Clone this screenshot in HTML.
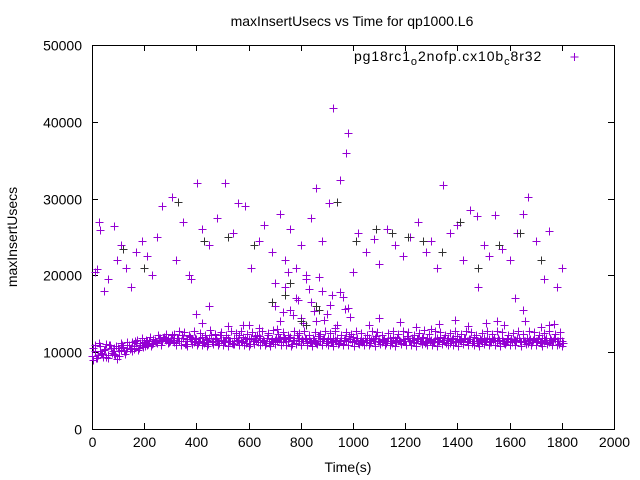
<!DOCTYPE html>
<html><head><meta charset="utf-8"><style>
html,body{margin:0;padding:0;background:#fff;}
svg{display:block;font-family:"Liberation Sans",sans-serif;}
</style></head><body>
<svg id="chart" width="640" height="480">
<rect width="640" height="480" fill="#fff"/>
<text x="352" y="26" font-size="14" text-anchor="middle">maxInsertUsecs vs Time for qp1000.L6</text>
<text x="348" y="472" font-size="14" text-anchor="middle">Time(s)</text>
<text transform="translate(17,237) rotate(-90)" font-size="14" text-anchor="middle">maxInsertUsecs</text>
<g id="axes"></g>
<g id="marks"></g>
<g>
<text x="354" y="61" font-size="14" letter-spacing="0.9">pg18rc1<tspan dy="4" font-size="11">o</tspan><tspan dy="-4">2nofp.cx10b</tspan><tspan dy="4" font-size="11">c</tspan><tspan dy="-4">8r32</tspan></text>
<path d="M570.5 57h8M574.5 53v8" stroke="#9400d3" stroke-width="1"/>
</g>
</svg>
<script>
const xTicks=[0,200,400,600,800,1000,1200,1400,1600,1800,2000];
const yTicks=[0,10000,20000,30000,40000,50000];
const bandTimes=[];for(let t=0;t<=1800;t+=10)bandTimes.push(t);
const bandA=[9500,10200,9300,10800,9800,10400,9600,10900,10100,9700,10500,
10300,10700,10100,11000,10500,10800,11200,10600,11000,11300,10900,11400,11100,11600,11200,11800,11400,11700,11900,11500,
11600,11200,11900,11400,11800,11100,12100,11500,11300,11700,
11500,12000,11200,11600,11900,11300,11700,11400,12200,11600,
11300,11800,11500,11100,11900,11600,11400,12000,11200,11700,
11800,11400,11600,12100,11300,11500,11900,11200,11700,11600,
11500,11900,11300,11700,11400,12000,11600,11200,11800,11500,
11400,11700,11900,11300,11600,11200,12100,11500,11800,11400,
11700,11300,11600,11900,11500,11100,11800,11400,11700,12000,
11600,11200,11800,11500,11300,11900,11600,11400,12100,11500,
11300,11700,11500,11900,11200,11600,11800,11400,11700,11500,
11900,11400,11600,11200,11800,11500,12000,11300,11700,11600,
11400,11800,11500,11300,11900,11600,11200,11700,11500,12100,
11600,11300,11800,11400,11700,11500,11900,11200,11600,11800,
11500,11700,11300,11900,11400,11600,11800,11200,11700,11500,
11300,11600,11900,11400,11800,11500,11200,11700,11600,11400,
11700,11200,11500,11900,11300,11600,11800,11400,11100,11500];
const bandB=[10600,9200,11200,9900,10300,9400,11000,9900,10600,9100,10200,
10900,9800,11300,10400,10100,11500,10300,11200,10700,11600,11100,10800,11700,11300,11900,11000,12000,11600,11300,12200,
11300,11900,11500,12300,11100,11700,12000,11400,11800,11200,
11800,11300,11700,11100,12200,11500,11900,11200,11600,11400,
12000,11500,11200,11800,11400,12200,11300,11700,11900,11100,
11400,12100,11300,11800,11600,11200,12300,11500,11300,11900,
11700,11300,12000,11400,11800,11100,11600,12200,11400,11700,
11900,11200,11500,11800,11300,12100,11400,11700,11200,11900,
11300,11800,11500,11200,11900,11600,11400,12100,11300,11500,
11800,11500,11300,11900,11600,11200,11700,11800,11400,11300,
11600,11200,11800,11400,12000,11300,11600,11200,11500,12100,
11500,11800,11300,11700,11400,11900,11200,11800,11500,11300,
11700,11400,12000,11600,11200,11800,11500,11900,11300,11700,
11400,11900,11500,11700,11200,12000,11400,11700,11300,11500,
11800,11300,11600,11400,11900,11200,11500,11300,11900,11700,
11600,11400,11800,11300,11500,11900,11600,11300,11800,11500,
11300,11800,11600,11200,11900,11400,11700,11500,11800,11200];
const bandC=[9000,10900,9700,10100,9400,11100,9200,10500,9800,10800,9500,
11200,10200,10600,10900,11300,10400,11600,11000,11800,10800,11400,12000,11200,11500,12300,11400,11900,12400,11200,11800,
12400,10900,12700,11000,12600,10800,12300,11100,12800,10900,
12500,11000,12200,10800,12900,11100,12400,10900,12600,11000,
12300,10800,12700,11100,12500,10900,12800,11000,12400,10800,
12600,11100,12300,10900,12700,11000,12500,10800,12900,11100,
12400,10900,12600,11000,12200,10800,12800,11100,12500,10900,
12700,11000,12300,10800,12600,11100,12400,10900,12800,11000,
12500,10800,12700,11100,12300,10900,12600,11000,12400,10800,
12800,11100,12500,10900,12200,11000,12700,10800,12600,11100,
12300,10900,12500,11000,12800,10800,12400,11100,12700,10900,
12600,11000,12300,10800,12500,11100,12900,10900,12400,11000,
12700,10800,12600,11100,12300,10900,12500,11000,12800,10800,
12400,11100,12700,10900,12600,11000,12300,10800,12500,11100,
12800,10900,12400,11000,12700,10800,12600,11100,12300,10900,
12500,11000,12800,10800,12400,11100,12700,10900,12600,11000,
12300,10800,12500,11100,12700,10900,12400,11000,12600,10800];
const outT=[27,31,84,10,20,45,60,95,110,130,150,170,190,210,230,250,268,306,320,350,370,402,420,450,480,510,540,560,586,610,640,660,690,700,720,740,760,780,800,820,840,858,880,908,923,950,973,981,1000,1020,1050,1080,1100,1130,1160,1190,1220,1250,1280,1300,1320,1345,1370,1400,1420,1450,1475,1500,1520,1544,1570,1600,1630,1650,1670,1700,1730,1750,1780,1800,
700,720,740,760,780,800,820,840,860,880,900,920,940,960,980,710,730,750,770,790,810,830,850,870,890,910,930,950,970,990,
400,600,1100,1300,1550,1650,1750,380,450,1480,1620,
420,520,580,640,1060,1180,1240,1330,1390,1440,1510,1580,1660,1720,1770];
const outV=[27000,25900,26400,20500,20800,18000,19500,22000,24000,21000,18500,23000,24500,22500,20000,25000,29000,30200,22000,27000,20000,32000,26000,24000,27500,32000,25500,29400,29000,21000,24500,26500,23000,19000,28000,22000,26000,21000,24000,20000,27500,31400,24500,29400,41800,32400,36000,38500,20500,25500,23000,24800,21500,26000,24000,22500,25000,27000,23000,24500,21000,31800,25500,26500,22000,28500,27700,24000,22500,27900,23500,22000,25500,28000,30200,24500,19500,25800,18500,21000,
16000,14000,18500,15500,17000,14500,19500,16500,14000,18000,15000,17500,13500,17200,15800,13000,15200,20500,14800,16800,13800,18200,15400,19800,14200,16200,13200,17800,15600,14600,
15000,13500,14500,13000,14000,15500,13500,19500,16000,18500,17000,
13800,13400,13600,13200,13500,13900,13300,13700,14200,13400,13800,13600,14000,13300,13700];
const darkT=[120,200,330,430,520,620,690,760,820,870,940,1010,1090,1150,1210,1270,1340,1410,1480,1560,1640,1720,740,800,860];
const darkV=[23500,21000,29500,24500,25000,24000,16500,19000,13500,15500,29500,24500,26000,25500,25000,24500,23000,27000,21000,24000,25500,22000,17500,14000,16000];
const X=t=>92+t*(522/2000), Y=v=>429-v*(384/50000);
const ns='http://www.w3.org/2000/svg';
const axes=document.getElementById('axes'), marks=document.getElementById('marks');
function mk(tag,attrs,parent){const e=document.createElementNS(ns,tag);for(const k in attrs)e.setAttribute(k,attrs[k]);parent.appendChild(e);return e;}
const frame=mk('rect',{x:92.5,y:45.5,width:522,height:384,fill:'none',stroke:'#000','stroke-width':1},axes);


xTicks.forEach(t=>{const x=Math.round(X(t))+0.5;
 const l=mk('path',{d:`M${x} 429v-6M${x} 45v6`,stroke:'#000'},axes);
 
 
 const tx=mk('text',{x:x,y:447,'font-size':14,'text-anchor':'middle'},axes);tx.textContent=t;
 
 });
yTicks.forEach(v=>{const y=Math.round(Y(v))+0.5;
 const l=mk('path',{d:`M92 ${y}h6M614 ${y}h-6`,stroke:'#000'},axes);
 
 
 const tx=mk('text',{x:82,y:y+5,'font-size':14,'text-anchor':'end'},axes);tx.textContent=v;
 
 });
function plus(t,v,c){const x=Math.round(X(t))+0.5,y=Math.round(Y(v))+0.5;
 const p=mk('path',{d:`M${x-4} ${y}h8M${x} ${y-4}v8`,stroke:c,'stroke-width':1},marks);
 
 }
bandTimes.forEach((t,i)=>{plus(t,bandA[i],'#9400d3');plus(t+5,bandB[i],'#9400d3');plus(t+2.5,bandC[i],'#9400d3');});
outT.forEach((t,i)=>plus(t,outV[i],'#9400d3'));
darkT.forEach((t,i)=>plus(t,darkV[i],'#333'));
</script>
</body></html>
